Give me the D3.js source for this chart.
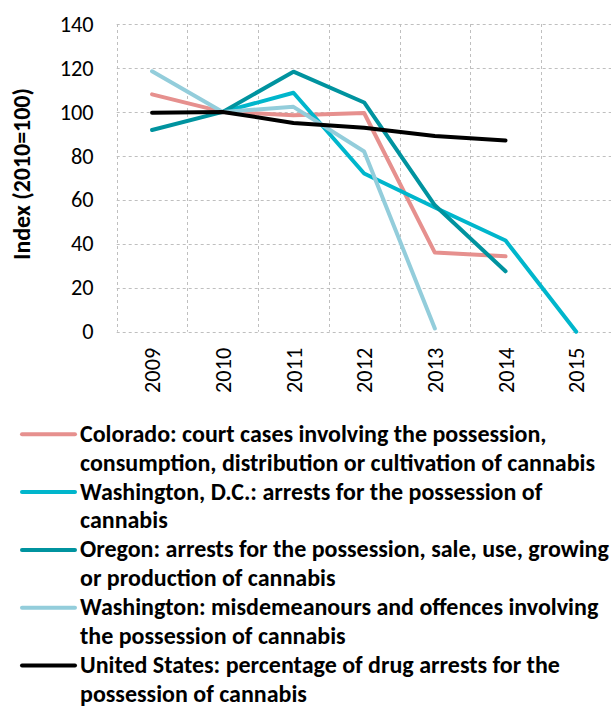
<!DOCTYPE html>
<html>
<head>
<meta charset="utf-8">
<script src="https://cdn.jsdelivr.net/npm/d3@7"></script>
<style>
  html, body { margin: 0; padding: 0; background: #fff; }
  svg { display: block; }
  text { font-family: Carlito, Calibri, Lato, "Open Sans", sans-serif; fill: #000; }
</style>
</head>
<body>
<svg id="chart" width="611" height="707"></svg>
<script>
// ---- data ----
const years = ["2009", "2010", "2011", "2012", "2013", "2014", "2015"];
const yTicks = [0, 20, 40, 60, 80, 100, 120, 140];
const seriesNames = ["Colorado", "Washington, D.C.", "Oregon", "Washington", "United States"];
const colorado   = [108, 100, 98.5, 99.5, 36, 34.3, null];
const washingtonDC = [null, 100, 108.7, 72, 56.5, 41.5, 0];
const oregon     = [91.8, 100, 118.3, 104.3, 57.5, 27.5, null];
const washington = [118.5, 100, 102.3, 82, 1.5, null, null];
const unitedStates = [99.6, 100, 95, 92.8, 89, 87, null];
const seriesColors = ["#E6908E", "#00B6CC", "#00939F", "#93CDDB", "#000000"];
const legendLines = [
  ["Colorado: court cases involving the possession,", "consumption, distribution or cultivation of cannabis"],
  ["Washington, D.C.: arrests for the possession of", "cannabis"],
  ["Oregon: arrests for the possession, sale, use, growing", "or production of cannabis"],
  ["Washington: misdemeanours and offences involving", "the possession of cannabis"],
  ["United States: percentage of drug arrests for the", "possession of cannabis"]
];
const yTitle = "Index (2010=100)";

const seriesValues = [colorado, washingtonDC, oregon, washington, unitedStates];

(function () {
// ---- layout ----
const svg = d3.select("#chart");
const pLeft = 116.7, pRight = 611.6, pTop = 24, pBottom = 331.7;

const x = d3.scaleBand().domain(years).range([pLeft, pRight]).paddingInner(0).paddingOuter(0);
const y = d3.scaleLinear().domain([0, 140]).range([pBottom, pTop]);

// font fitting helper: pick size so a sample string matches a target width
function fitSize(sample, target, weight) {
  const t = svg.append("text").attr("font-size", 100).attr("font-weight", weight).text(sample);
  const w = t.node().getComputedTextLength();
  t.remove();
  return 100 * target / w;
}
const tickSize = fitSize("140", 34, "normal");
const legendSize = fitSize(legendLines[2][0], 529, "bold");
const titleSize = fitSize(yTitle, 172, "bold");
const fam = "Carlito, Calibri, Lato, 'Open Sans', sans-serif";

// grid
const grid = svg.append("g").attr("stroke", "#BFBFBF").attr("stroke-width", 1)
  .attr("stroke-dasharray", "3,3").attr("fill", "none");
grid.selectAll("line.h").data(yTicks).join("line").attr("class", "h")
  .attr("x1", pLeft).attr("x2", pRight)
  .attr("y1", d => Math.round(y(d)) + 0.5).attr("y2", d => Math.round(y(d)) + 0.5);
grid.selectAll("line.v").data(years).join("line").attr("class", "v")
  .attr("x1", d => Math.round(x(d)) + 0.5).attr("x2", d => Math.round(x(d)) + 0.5)
  .attr("y1", pTop).attr("y2", pBottom);

// y axis labels
const yAxis = d3.axisLeft(y).tickValues(yTicks).tickSize(0).tickPadding(0);
const gy = svg.append("g").attr("transform", `translate(${pLeft - 23},0)`).call(yAxis);
gy.select(".domain").remove();
gy.selectAll("text").attr("font-size", tickSize).attr("fill", "#000")
  .style("font-family", fam);

// x axis labels (rotated)
const xAxis = d3.axisBottom(x).tickSize(0).tickPadding(0);
const gx = svg.append("g").attr("transform", `translate(0,${pBottom})`).call(xAxis);
gx.select(".domain").remove();
gx.selectAll("text")
  .attr("font-size", tickSize).attr("fill", "#000")
  .style("font-family", fam)
  .attr("text-anchor", "end")
  .attr("transform", "rotate(-90)")
  .attr("x", -16).attr("y", 0).attr("dy", "0.36em");

// y title
svg.append("text")
  .attr("transform", `translate(30,174) rotate(-90)`)
  .attr("text-anchor", "middle")
  .attr("font-size", titleSize).attr("font-weight", "bold")
  .text(yTitle);

// lines
const line = d3.line()
  .defined(d => d.v !== null)
  .x(d => x(d.year) + x.bandwidth() / 2)
  .y(d => y(d.v));
svg.append("g").selectAll("path").data(seriesValues).join("path")
  .attr("d", vals => line(vals.map((v, i) => ({ year: years[i], v }))))
  .attr("fill", "none")
  .attr("stroke", (d, i) => seriesColors[i])
  .attr("stroke-width", 4)
  .attr("stroke-linejoin", "round")
  .attr("stroke-linecap", "round");

// legend
const legY0 = 434.3, legStep = 57.8, lineH = 28.9;
const leg = svg.append("g");
const items = leg.selectAll("g").data(seriesNames).join("g")
  .attr("transform", (d, i) => `translate(0,${legY0 + i * legStep})`);
items.append("line")
  .attr("x1", 22).attr("x2", 75).attr("y1", 0).attr("y2", 0)
  .attr("stroke", (d, i) => seriesColors[i]).attr("stroke-width", 4)
  .attr("stroke-linecap", "round");
items.each(function(d, i) {
  const t = d3.select(this).append("text")
    .attr("x", 80).attr("y", 0)
    .attr("font-size", legendSize).attr("font-weight", "bold");
  legendLines[i].forEach((ln, j) => {
    t.append("tspan").attr("x", 80).attr("y", 7.5 + j * lineH).text(ln);
  });
});
})();
</script>
</body>
</html>
